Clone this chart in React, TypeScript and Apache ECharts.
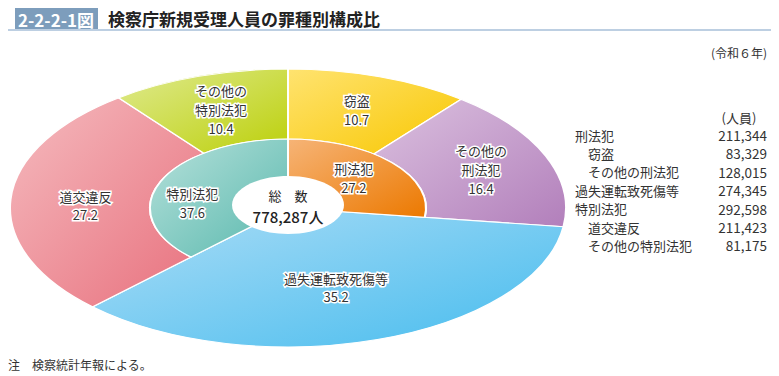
import React, { useEffect, useRef } from 'react';
import * as echarts from 'echarts';

// ---- data ----
const groupNames = ['刑法犯', '過失運転致死傷等', '特別法犯'];
const groupValues = [211344, 274345, 292598];
const groupPercents = ['27.2', '35.2', '37.6'];

const subNames = ['窃盗', 'その他の刑法犯', '過失運転致死傷等', '道交違反', 'その他の特別法犯'];
const subLabels = ['窃盗', 'その他の\n刑法犯', '過失運転致死傷等', '道交違反', 'その他の\n特別法犯'];
const subValues = [83329, 128015, 274345, 211423, 81175];
const subPercents = ['10.7', '16.4', '35.2', '27.2', '10.4'];

const totalTitle = '総　数';
const totalLabel = '778,287人';

const tableLabels = ['刑法犯', '窃盗', 'その他の刑法犯', '過失運転致死傷等', '特別法犯', '道交違反', 'その他の特別法犯'];
const tableValues = [211344, 83329, 128015, 274345, 292598, 211423, 81175];
const tableIndent = [0, 1, 1, 0, 0, 1, 1];

// ---- styles ----
const subColors: Record<string, [string, string]> = {
  '窃盗': ['#FFE370', '#F8C700'],
  'その他の刑法犯': ['#DBC1DF', '#B27FBB'],
  '過失運転致死傷等': ['#ADDDF6', '#46BCEE'],
  '道交違反': ['#F5BBBF', '#E8707D'],
  'その他の特別法犯': ['#DFEA90', '#BCD00A'],
};
const groupColors: Record<string, [string, string]> = {
  '刑法犯': ['#F6B477', '#EC7900'],
  '特別法犯': ['#B7E1DB', '#58B8AD'],
};
// small manual nudges of label anchors (style only)
const labelNudge: Record<string, [number, number]> = {
  '特別法犯': [-5, 14],
  '刑法犯': [-8, 2],
  '道交違反': [5, 4],
  '過失運転致死傷等': [-6, 0],
};

const CX = 288;
const CY = 208;
const SX = 2;
const R_OUT = 139;
const R_MID = 69;
const R_HOLE = 29;
const LINE_H = 18.8;

const FONT = '"Noto Sans CJK JP", "Noto Sans", sans-serif';

type Slice = {
  name: string;
  label: string;
  percent: string;
  start: number;
  end: number;
  r0: number;
  r1: number;
  lr: number;
  colors: [string, string];
};

function buildSlices(): Slice[] {
  const slices: Slice[] = [];
  const total = subValues.reduce((a, b) => a + b, 0);
  let acc = 0;
  subValues.forEach((v, i) => {
    const start = (acc / total) * Math.PI * 2;
    acc += v;
    const end = (acc / total) * Math.PI * 2;
    const full = groupNames.includes(subNames[i]);
    slices.push({
      name: subNames[i],
      label: subLabels[i],
      percent: subPercents[i],
      start,
      end,
      r0: full ? 0 : R_MID,
      r1: R_OUT,
      lr: full ? (R_HOLE + R_OUT) / 2 : (R_MID + R_OUT) / 2,
      colors: subColors[subNames[i]],
    });
  });
  const gTotal = groupValues.reduce((a, b) => a + b, 0);
  acc = 0;
  groupValues.forEach((v, i) => {
    const start = (acc / gTotal) * Math.PI * 2;
    acc += v;
    const end = (acc / gTotal) * Math.PI * 2;
    if (subNames.includes(groupNames[i])) return;
    slices.push({
      name: groupNames[i],
      label: groupNames[i],
      percent: groupPercents[i],
      start,
      end,
      r0: 0,
      r1: R_MID,
      lr: (R_HOLE + R_MID) / 2,
      colors: groupColors[groupNames[i]],
    });
  });
  return slices;
}

export default function App() {
  const ref = useRef<HTMLDivElement>(null);

  useEffect(() => {
    document.body.style.margin = '0';
    if (!ref.current) return;
    const chart = echarts.init(ref.current, undefined, { renderer: 'svg' });
    const slices = buildSlices();

    const tableGraphics: any[] = [];
    tableGraphics.push({
      type: 'text',
      x: 739,
      y: 117,
      z: 100,
      style: { text: '(人員)', font: `13px ${FONT}`, fill: '#333', align: 'center', verticalAlign: 'middle' },
    });
    tableLabels.forEach((l, i) => {
      const y = 135 + i * 18.4;
      tableGraphics.push({
        type: 'text',
        x: tableIndent[i] ? 588 : 575,
        y,
        z: 100,
        style: { text: l, font: `13px ${FONT}`, fill: '#333', align: 'left', verticalAlign: 'middle' },
      });
      tableGraphics.push({
        type: 'text',
        x: 767,
        y,
        z: 100,
        style: {
          text: tableValues[i].toLocaleString('en-US'),
          font: `13.5px ${FONT}`,
          fill: '#333',
          align: 'right',
          verticalAlign: 'middle',
        },
      });
    });

    const option: any = {
      animation: false,
      backgroundColor: '#fff',
      graphic: [
        { type: 'rect', z: 100, shape: { x: 15, y: 8, width: 83, height: 21 }, style: { fill: '#7D9DBC' } },
        {
          type: 'text',
          x: 56,
          y: 19,
          z: 101,
          style: { text: '2-2-2-1図', font: `bold 17px ${FONT}`, fill: '#fff', align: 'center', verticalAlign: 'middle' },
        },
        {
          type: 'text',
          x: 108,
          y: 18,
          z: 100,
          style: { text: '検察庁新規受理人員の罪種別構成比', font: `bold 17px ${FONT}`, fill: '#222', align: 'left', verticalAlign: 'middle' },
        },
        { type: 'line', z: 100, shape: { x1: 8, y1: 30, x2: 771, y2: 30 }, style: { stroke: '#A7BFD8', lineWidth: 1.5 } },
        {
          type: 'text',
          x: 767,
          y: 52,
          z: 100,
          style: { text: '(令和６年)', font: `12px ${FONT}`, fill: '#333', align: 'right', verticalAlign: 'middle' },
        },
        {
          type: 'text',
          x: 8,
          y: 364,
          z: 100,
          style: { text: '注　検察統計年報による。', font: `12px ${FONT}`, fill: '#333', align: 'left', verticalAlign: 'middle' },
        },
        {
          type: 'ellipse',
          z: 100,
          shape: { cx: CX, cy: CY - 3, rx: 56, ry: 29 },
          style: { fill: '#fff' },
        },
        {
          type: 'text',
          x: CX,
          y: CY - 13,
          z: 101,
          style: { text: totalTitle, font: `13px ${FONT}`, fill: '#222', align: 'center', verticalAlign: 'middle' },
        },
        {
          type: 'text',
          x: CX,
          y: CY + 8,
          z: 101,
          style: { text: totalLabel, font: `500 15px ${FONT}`, fill: '#222', align: 'center', verticalAlign: 'middle' },
        },
        ...tableGraphics,
      ],
      series: [
        {
          type: 'custom',
          coordinateSystem: 'none',
          data: slices.map((s) => [s.start, s.end, s.r0, s.r1, s.lr]),
          renderItem: (params: any, api: any) => {
            const s = slices[params.dataIndex];
            const start = api.value(0);
            const end = api.value(1);
            const r0 = api.value(2);
            const r1 = api.value(3);
            const lr = api.value(4);
            const mid = (start + end) / 2;
            const nudge = labelNudge[s.name] || [0, 0];
            const ax = CX + SX * lr * Math.sin(mid) + nudge[0];
            const ay = CY - lr * Math.cos(mid) + nudge[1];
            const lines = (s.label + '\n' + s.percent).split('\n');
            const top = ay - ((lines.length - 1) * LINE_H) / 2;
            const texts = lines.map((t, k) => ({
              type: 'text',
              z2: 50,
              x: ax,
              y: top + k * LINE_H,
              style: {
                text: t,
                font: `13px ${FONT}`,
                fill: '#333',
                stroke: '#fff',
                lineWidth: 3,
                align: 'center',
                verticalAlign: 'middle',
              },
            }));
            return {
              type: 'group',
              children: [
                {
                  type: 'sector',
                  x: CX,
                  y: CY,
                  scaleX: SX,
                  scaleY: 1,
                  shape: {
                    cx: 0,
                    cy: 0,
                    r0,
                    r: r1,
                    startAngle: start - Math.PI / 2,
                    endAngle: end - Math.PI / 2,
                    clockwise: true,
                  },
                  style: {
                    fill: new echarts.graphic.LinearGradient(0, 0, 1, 1, [
                      { offset: 0, color: s.colors[0] },
                      { offset: 1, color: s.colors[1] },
                    ]),
                    stroke: '#fff',
                    lineWidth: 1,
                    strokeNoScale: true,
                  },
                },
                ...texts,
              ],
            };
          },
        },
      ],
    };
    chart.setOption(option);
    return () => chart.dispose();
  }, []);

  return <div ref={ref} style={{ width: 779, height: 376 }} />;
}
